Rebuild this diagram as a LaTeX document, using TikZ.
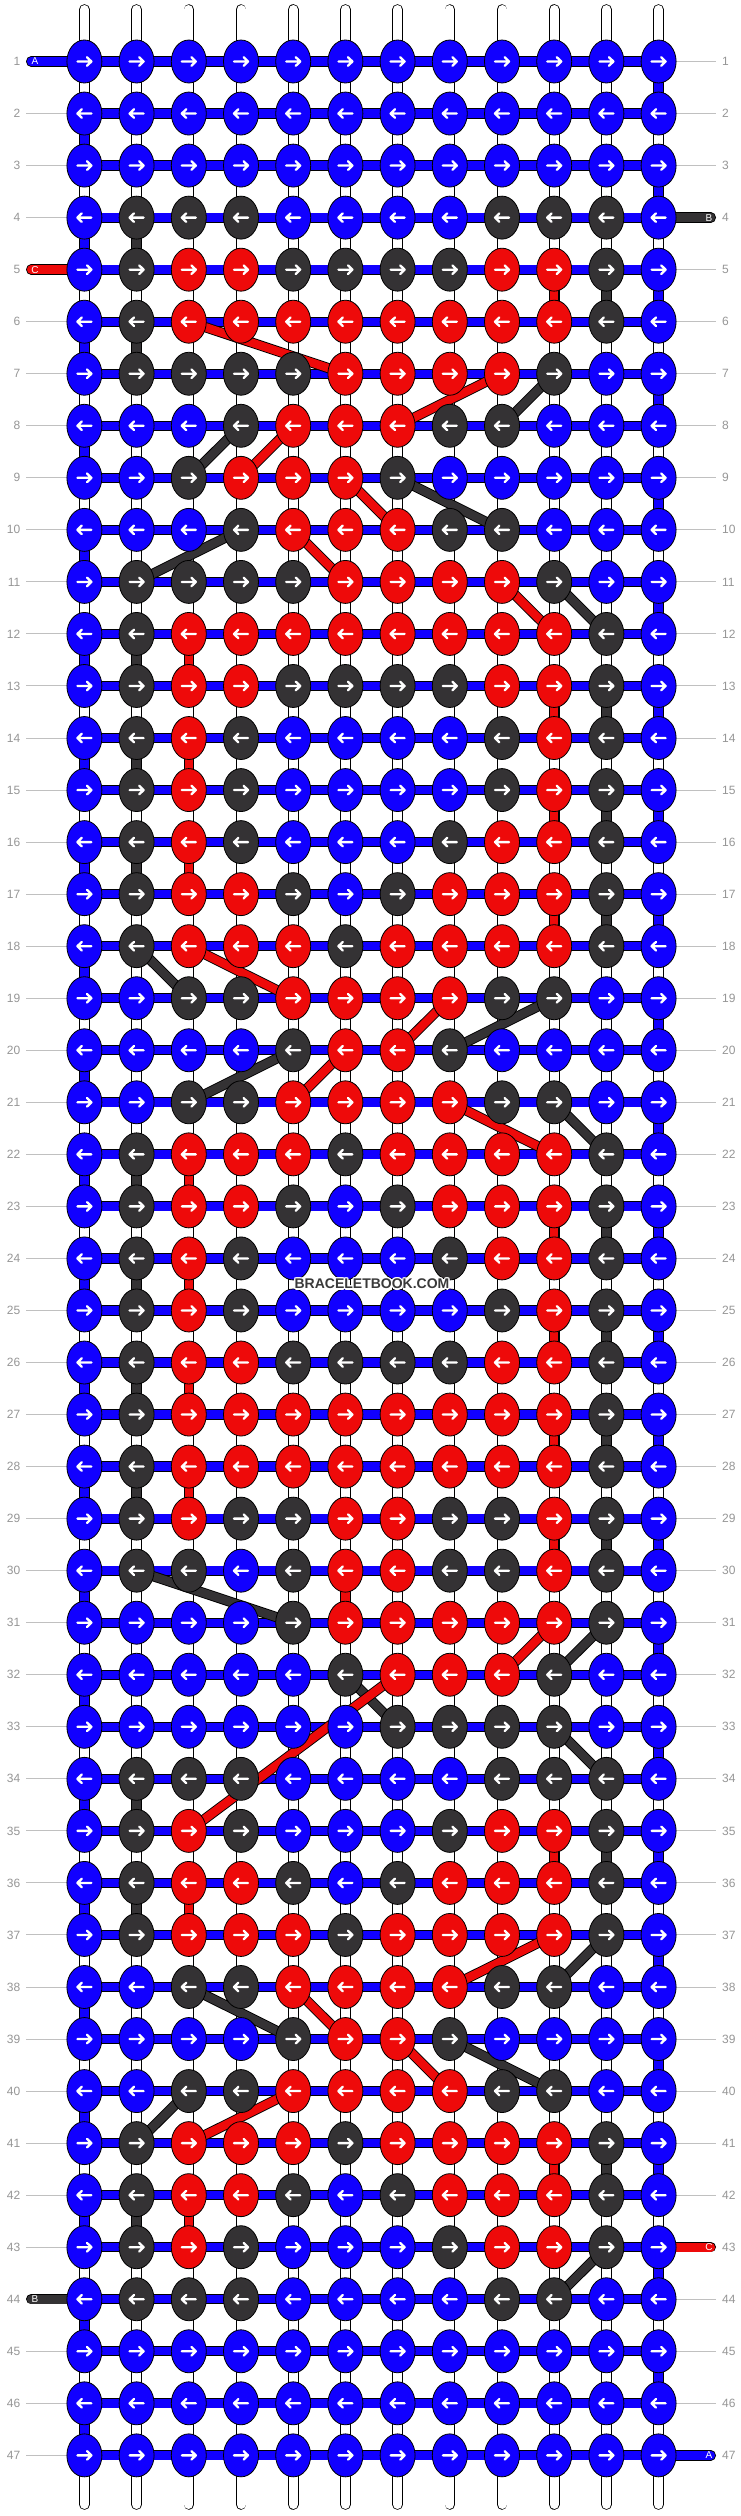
\documentclass[tikz,border=0pt]{standalone}
\usepackage{fontspec}
\setmainfont{Liberation Sans}
\usetikzlibrary{shapes.geometric}
\pgfdeclarelayer{back}
\pgfsetlayers{back,main}
\definecolor{kB}{RGB}{17,0,255}
\definecolor{kG}{RGB}{52,50,52}
\definecolor{kR}{RGB}{238,10,10}
\definecolor{numgray}{RGB}{150,150,150}
\definecolor{linegray}{RGB}{192,192,192}
\definecolor{txtgray}{RGB}{58,58,58}
\begin{document}
\begin{tikzpicture}[x=1pt,y=-1pt,
  knot/.style={ellipse, draw=black, line width=0.8pt, fill=k#1, minimum width=35pt, minimum height=43pt, inner sep=0pt, outer sep=0pt},
  conn/.style={draw=black, line width=0.9pt, double=k#1, double distance=8.4pt},
  warp/.style={draw=black, line width=0.8pt, double=white, double distance=9pt, line cap=round},
  tail/.style={draw=black, line width=0.9pt, double=k#1, double distance=8.6pt, line cap=round},
  arr/.style={white, line width=2.3pt, line cap=round, line join=round},
  num/.style={text=numgray, font=\fontsize{12}{12}\selectfont, inner sep=0pt},
  lbl/.style={text=white, font=\fontsize{10}{10}\selectfont, inner sep=0pt},
  wmark/.style={font=\bfseries\fontsize{14}{14}\selectfont, inner sep=0pt},
  guide/.style={draw=linegray, line width=1pt}]
\useasboundingbox (0,0) rectangle (740,2516);
% knots
\foreach [count=\ri] \row in {%
{B,B,B,B,B,B,B,B,B,B,B,B},%
{B,B,B,B,B,B,B,B,B,B,B,B},%
{B,B,B,B,B,B,B,B,B,B,B,B},%
{B,G,G,G,B,B,B,B,G,G,G,B},%
{B,G,R,R,G,G,G,G,R,R,G,B},%
{B,G,R,R,R,R,R,R,R,R,G,B},%
{B,G,G,G,G,R,R,R,R,G,B,B},%
{B,B,B,G,R,R,R,G,G,B,B,B},%
{B,B,G,R,R,R,G,B,B,B,B,B},%
{B,B,B,G,R,R,R,G,G,B,B,B},%
{B,G,G,G,G,R,R,R,R,G,B,B},%
{B,G,R,R,R,R,R,R,R,R,G,B},%
{B,G,R,R,G,G,G,G,R,R,G,B},%
{B,G,R,G,B,B,B,B,G,R,G,B},%
{B,G,R,G,B,B,B,B,G,R,G,B},%
{B,G,R,G,B,B,B,G,R,R,G,B},%
{B,G,R,R,G,B,G,R,R,R,G,B},%
{B,G,R,R,R,G,R,R,R,R,G,B},%
{B,B,G,G,R,R,R,R,G,G,B,B},%
{B,B,B,B,G,R,R,G,B,B,B,B},%
{B,B,G,G,R,R,R,R,G,G,B,B},%
{B,G,R,R,R,G,R,R,R,R,G,B},%
{B,G,R,R,G,B,G,R,R,R,G,B},%
{B,G,R,G,B,B,B,G,R,R,G,B},%
{B,G,R,G,B,B,B,B,G,R,G,B},%
{B,G,R,R,G,G,G,G,R,R,G,B},%
{B,G,R,R,R,R,R,R,R,R,G,B},%
{B,G,R,R,R,R,R,R,R,R,G,B},%
{B,G,R,G,G,R,R,G,G,R,G,B},%
{B,G,G,B,G,R,R,G,G,R,G,B},%
{B,B,B,B,G,R,R,R,R,R,G,B},%
{B,B,B,B,B,G,R,R,R,G,B,B},%
{B,B,B,B,B,B,G,G,G,G,B,B},%
{B,G,G,G,B,B,B,B,G,G,G,B},%
{B,G,R,G,B,B,B,G,R,R,G,B},%
{B,G,R,R,G,B,G,R,R,R,G,B},%
{B,G,R,R,R,G,R,R,R,R,G,B},%
{B,B,G,G,R,R,R,R,G,G,B,B},%
{B,B,B,B,G,R,R,G,B,B,B,B},%
{B,B,G,G,R,R,R,R,G,G,B,B},%
{B,G,R,R,R,G,R,R,R,R,G,B},%
{B,G,R,R,G,B,G,R,R,R,G,B},%
{B,G,R,G,B,B,B,G,R,R,G,B},%
{B,G,G,G,B,B,B,B,G,G,B,B},%
{B,B,B,B,B,B,B,B,B,B,B,B},%
{B,B,B,B,B,B,B,B,B,B,B,B},%
{B,B,B,B,B,B,B,B,B,B,B,B}}{%
  \foreach [count=\ci] \k in \row {%
    \node[knot=\k] (k-\ri-\ci) at ({32.2+52.2*\ci},{9.46+52.04*\ri}) {};
  }%
}
% arrows
\foreach \ri in {1,...,47} {%
  \pgfmathsetmacro\dir{ifthenelse(mod(\ri,2)==1,1,-1)}%
  \foreach \ci in {1,...,12} {%
    \draw[arr, shift={(k-\ri-\ci.center)}, xscale=\dir] (-7,0) -- (7,0) (2.6,-4.3) -- (7,0) -- (2.6,4.3);
  }%
}
% row numbers
\foreach \ri in {1,...,47} {%
  \pgfmathsetmacro\yy{9.46+52.04*\ri}%
  \node[num, anchor=east] (nl-\ri) at (20.5,\yy) {\ri};
  \node[num, anchor=west] (nr-\ri) at (722,\yy) {\ri};
  \coordinate (gl-\ri) at (26,\yy);
  \coordinate (gr-\ri) at (716,\yy);
}
% tails: coordinates and labels
\path (k-1-1.center) ++(-53.2,0) coordinate (tA1);
\path (k-5-1.center) ++(-53.2,0) coordinate (tC5);
\path (k-44-1.center) ++(-53.2,0) coordinate (tB44);
\path (k-4-12.center) ++(52.2,0) coordinate (tB4);
\path (k-43-12.center) ++(52.2,0) coordinate (tC43);
\path (k-47-12.center) ++(52.2,0) coordinate (tA47);
\node[lbl] (lA1) at ([xshift=3.8pt]tA1) {A};
\node[lbl] (lC5) at ([xshift=3.8pt]tC5) {C};
\node[lbl] (lB44) at ([xshift=3.8pt]tB44) {B};
\node[lbl] (lB4) at ([xshift=-1.8pt]tB4) {B};
\node[lbl] (lC43) at ([xshift=-1.8pt]tC43) {C};
\node[lbl] (lA47) at ([xshift=-1.8pt]tA47) {A};
% watermark with white halo
\coordinate (wmc) at (372,1284);
\foreach \dx/\dy in {-1.3/0,1.3/0,0/-1.3,0/1.3,-0.9/-0.9,0.9/-0.9,-0.9/0.9,0.9/0.9} {%
  \node[wmark, text=white] at ([xshift=\dx pt, yshift=\dy pt]wmc) {BRACELETBOOK.COM};
}
\node[wmark, text=txtgray] (wm) at (wmc) {BRACELETBOOK.COM};
\begin{pgfonlayer}{back}
  \fill[white] (0,0) rectangle (740,2516);
  \foreach \ci in {1,...,12} {%
    \coordinate (wt-\ci) at ({32.2+52.2*\ci},9.5);
    \coordinate (wb-\ci) at ({32.2+52.2*\ci},2504.5);
    \draw[warp] (wt-\ci) -- (wb-\ci);
  }
  \foreach \ri in {1,...,47} {%
    \draw[guide] (gl-\ri) -- (k-\ri-1);
    \draw[guide] (k-\ri-12) -- (gr-\ri);
  }
  \foreach \ri in {1,...,47} {%
    \draw[conn=B] (k-\ri-1.center) -- (k-\ri-12.center);
  }
  \foreach \ri in {1,...,46} {%
    \pgfmathtruncatemacro\nx{\ri+1}%
    \pgfmathtruncatemacro\cc{ifthenelse(mod(\ri,2)==1,12,1)}%
    \draw[conn=B] (k-\ri-\cc.center) -- (k-\nx-\cc.center);
  }
  \foreach \ra/\ca/\rb/\cb in {4/2/5/2,5/11/6/11,6/2/7/2,7/10/8/9,8/4/9/3,9/7/10/9,10/4/11/2,11/10/12/11,12/2/13/2,13/11/14/11,14/2/15/2,15/11/16/11,16/2/17/2,17/11/18/11,18/2/19/3,19/10/20/8,20/5/21/3,21/10/22/11,22/2/23/2,23/11/24/11,24/2/25/2,25/11/26/11,26/2/27/2,27/11/28/11,28/2/29/2,29/11/30/11,30/2/31/5,31/11/32/10,32/6/33/7,33/10/34/11,34/2/35/2,35/11/36/11,36/2/37/2,37/11/38/10,38/3/39/5,39/8/40/10,40/3/41/2,41/11/42/11,42/2/43/2,43/11/44/10} {%
    \draw[conn=G] (k-\ra-\ca.center) -- (k-\rb-\cb.center);
  }
  \foreach \ra/\ca/\rb/\cb in {5/10/6/10,6/3/7/6,7/9/8/7,8/5/9/4,9/6/10/7,10/5/11/6,11/9/12/10,12/3/13/3,13/10/14/10,14/3/15/3,15/10/16/10,16/3/17/3,17/10/18/10,18/3/19/5,19/8/20/7,20/6/21/5,21/8/22/10,22/3/23/3,23/10/24/10,24/3/25/3,25/10/26/10,26/3/27/3,27/10/28/10,28/3/29/3,29/10/30/10,30/6/31/6,31/10/32/9,32/7/35/3,35/10/36/10,36/3/37/3,37/10/38/8,38/5/39/6,39/7/40/8,40/5/41/3,41/10/42/10,42/3/43/3} {%
    \draw[conn=R] (k-\ra-\ca.center) -- (k-\rb-\cb.center);
  }
  \draw[tail=B] (tA1) -- (k-1-1.center);
  \draw[tail=R] (tC5) -- (k-5-1.center);
  \draw[tail=G] (tB44) -- (k-44-1.center);
  \draw[tail=G] (k-4-12.center) -- (tB4);
  \draw[tail=R] (k-43-12.center) -- (tC43);
  \draw[tail=B] (k-47-12.center) -- (tA47);
\end{pgfonlayer}
\end{tikzpicture}
\end{document}
